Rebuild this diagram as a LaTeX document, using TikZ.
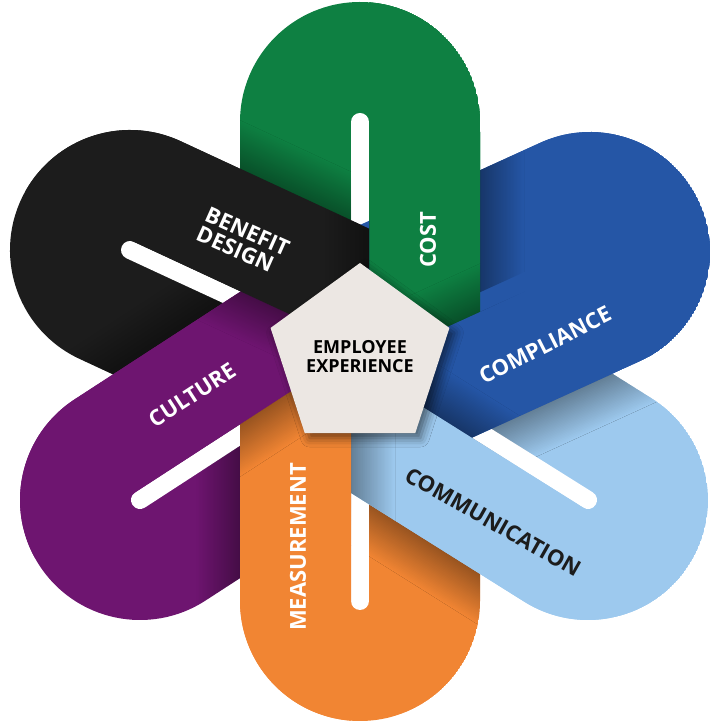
\documentclass[tikz,border=0pt]{standalone}
\usepackage{fontspec}
\setmainfont{Open Sans}
\usetikzlibrary{shapes.geometric,shadows.blur}

\definecolor{costgreen}{HTML}{0E8042}
\definecolor{compblue}{HTML}{2556A6}
\definecolor{commblue}{HTML}{9DC9EE}
\definecolor{measorange}{HTML}{F18533}
\definecolor{cultpurple}{HTML}{6E1570}
\definecolor{benblack}{HTML}{1C1C1C}
\definecolor{hubgrey}{HTML}{ECE7E3}

\newcommand{\rr}{120}
% loop outline: round end centred at #1, pointing to #2, #3 long towards the hub
\newcommand{\loopshape}[3]{(#1) ++(#2-90:\rr) arc[start angle=#2-90, end angle=#2+90, radius=\rr] -- ++(#2+180:#3) -- ++(#2-90:2*\rr) -- cycle }
% clockwise leg (below the slit) and anticlockwise leg (above it)
\newcommand{\legshape}[3]{(#1) ++(#2-90:\rr) arc[start angle=#2-90, end angle=#2-4.3, radius=\rr] -- ++(#2+180:#3+119.7) -- ++(#2-90:111) -- cycle }
\newcommand{\otherleg}[3]{(#1) ++(#2+90:\rr) arc[start angle=#2+90, end angle=#2+4.3, radius=\rr] -- ++(#2+180:#3+119.7) -- ++(#2+90:111) -- cycle }
\newcommand{\slitline}[3]{(#1) -- ++(#2+180:#3)}

\newcommand{\costloop}{\loopshape{360,601}{90}{205}}
\newcommand{\costleg}{\legshape{360,601}{90}{205}}
\newcommand{\costlegs}{\legshape{360,601}{90}{205} \otherleg{360,601}{90}{205}}
\newcommand{\costslit}{\slitline{360,601}{90}{205}}
\newcommand{\benloop}{\loopshape{130,473}{155.1}{224}}
\newcommand{\benleg}{\legshape{130,473}{155.1}{224}}
\newcommand{\benlegs}{\legshape{130,473}{155.1}{224} \otherleg{130,473}{155.1}{224}}
\newcommand{\benslit}{\slitline{130,473}{155.1}{224}}
\newcommand{\cultloop}{\loopshape{140,223}{213}{232}}
\newcommand{\cultleg}{\legshape{140,223}{213}{232}}
\newcommand{\cultlegs}{\legshape{140,223}{213}{232} \otherleg{140,223}{213}{232}}
\newcommand{\cultslit}{\slitline{140,223}{213}{232}}
\newcommand{\measloop}{\loopshape{360,122}{270}{214}}
\newcommand{\measleg}{\legshape{360,122}{270}{214}}
\newcommand{\measlegs}{\legshape{360,122}{270}{214} \otherleg{360,122}{270}{214}}
\newcommand{\measslit}{\slitline{360,122}{270}{214}}
\newcommand{\commloop}{\loopshape{588,223}{327.9}{239}}
\newcommand{\commleg}{\legshape{588,223}{327.9}{239}}
\newcommand{\commlegs}{\legshape{588,223}{327.9}{239} \otherleg{588,223}{327.9}{239}}
\newcommand{\commslit}{\slitline{588,223}{327.9}{239}}
\newcommand{\comploop}{\loopshape{590,471}{24.5}{223}}
\newcommand{\compleg}{\legshape{590,471}{24.5}{223}}
\newcommand{\complegs}{\legshape{590,471}{24.5}{223} \otherleg{590,471}{24.5}{223}}
\newcommand{\compslit}{\slitline{590,471}{24.5}{223}}

% shadow of path #2 falling only on the legs #1
\newcommand{\castonto}[2]{\begin{scope}\clip #1; \path[castshadow] #2; \end{scope}}

\tikzset{
	slit/.style={white, line width=18pt, line cap=round},
	castshadow/.style={blur shadow={shadow xshift=0pt, shadow yshift=0pt, shadow blur radius=44pt,
		shadow blur steps=32, shadow opacity=75}},
	lbl/.style={text=white, font=\bfseries\fontsize{22}{24}\selectfont, inner sep=0pt},
}

\begin{document}
\begin{tikzpicture}[x=1pt, y=1pt]
	\useasboundingbox (0,0) rectangle (713,723);
	\begin{scope}
		\clip \costloop \benloop \cultloop \measloop \commloop \comploop;
		% loops, each one over the next clockwise
		\fill[costgreen] \costloop; \draw[slit] \costslit;
		\castonto{\costlegs}{\benloop}
		\fill[benblack] \benloop; \draw[slit] \benslit;
		\castonto{\benlegs}{\cultloop}
		\fill[cultpurple] \cultloop; \draw[slit] \cultslit;
		\castonto{\cultlegs}{\measloop}
		\fill[measorange] \measloop; \draw[slit] \measslit;
		\castonto{\measlegs}{\commloop}
		\fill[commblue] \commloop; \draw[slit] \commslit;
		\castonto{\commlegs}{\comploop}
		\fill[compblue] \comploop; \draw[slit] \compslit;
		% clockwise legs go back over the previous loop
		\fill[compblue] \compleg;
		\castonto{\complegs}{\commleg}
		\fill[commblue] \commleg;
		\castonto{\commlegs}{\measleg}
		\fill[measorange] \measleg;
		\castonto{\measlegs}{\cultleg}
		\fill[cultpurple] \cultleg;
		\castonto{\cultlegs}{\benleg}
		\fill[benblack] \benleg;
		\castonto{\benlegs}{\costleg}
		\fill[costgreen] \costleg;
		% close the ring between green and blue
		\begin{scope}
			\clip (369.5,366) rectangle (713,723);
			\fill[compblue] \comploop;
			\castonto{\complegs}{\costloop}
			\fill[costgreen] \costloop;
			\castonto{\costlegs}{\compleg}
			\fill[compblue] \compleg;
		\end{scope}
	\end{scope}
	\node[regular polygon, regular polygon sides=5, minimum size=168pt, inner sep=0pt, fill=hubgrey,
		blur shadow={shadow xshift=5pt, shadow yshift=-5pt, shadow blur radius=9pt, shadow opacity=55},
		font=\bfseries\fontsize{18}{19}\selectfont, align=center] (hub) at (360,366) {EMPLOYEE\\EXPERIENCE};
	\node[lbl, rotate=90] (cost) at (428,483) {COST};
	\node[lbl, rotate=-24, align=left, font=\bfseries\fontsize{22}{21}\selectfont] (benefit) at (243,482) {BENEFIT\\DESIGN};
	\node[lbl, rotate=27] (compliance) at (545,378) {COMPLIANCE};
	\node[lbl, rotate=-29.5, text=benblack] (communication) at (493,201) {COMMUNICATION};
	\node[lbl, rotate=33] (culture) at (192,328) {CULTURE};
	\node[lbl, rotate=90] (measurement) at (298,176) {MEASUREMENT};
\end{tikzpicture}
\end{document}
